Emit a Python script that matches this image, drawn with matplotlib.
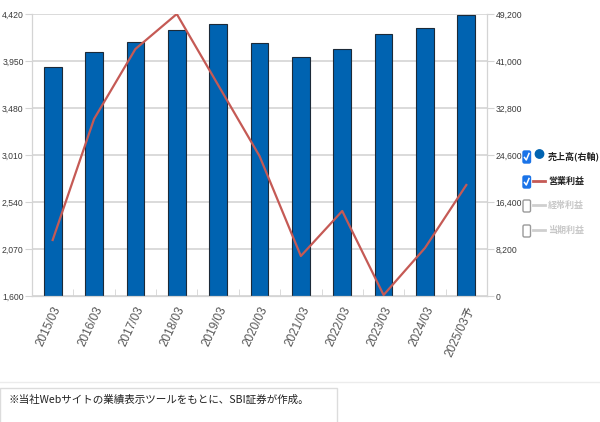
import matplotlib
matplotlib.use("Agg")
import matplotlib.pyplot as plt
from matplotlib.patches import FancyBboxPatch, Circle, Rectangle
from matplotlib.lines import Line2D
from matplotlib.transforms import Affine2D

plt.rcParams['font.family'] = ['Liberation Sans', 'Noto Sans CJK JP', 'DejaVu Sans']

# data
years = ['2015/03', '2016/03', '2017/03', '2018/03', '2019/03', '2020/03',
         '2021/03', '2022/03', '2023/03', '2024/03', '2025/03予']
sales = [40000, 42600, 44250, 46400, 47400, 44100, 41650, 43100, 45700, 46800, 49000]
op_profit = [2160, 3370, 4070, 4420, 3710, 3000, 2000, 2450, 1610, 2080, 2710]

left_ticks = [1600, 2070, 2540, 3010, 3480, 3950, 4420]
right_ticks = [0, 8200, 16400, 24600, 32800, 41000, 49200]

legend_items = ['売上高(右軸)', '営業利益', '経常利益', '当期利益']
footnote = '※当社Webサイトの業績表示ツールをもとに、SBI証券が作成。'

BLUE = '#0063b1'
RED = '#c55a55'
GRID = '#d4d4d4'
TXT = '#3a3a3a'

fig = plt.figure(figsize=(6, 4.22), dpi=100)
W, H = 600, 422
ax = fig.add_axes([32 / W, 1 - 296 / H, (487 - 32) / W, (296 - 14) / H])
ax2 = ax.twinx()

xs = list(range(len(years)))

# bars on the right axis
ax.bar(xs, sales, width=0.43, color=BLUE, edgecolor='#1c2a38', linewidth=0.8, zorder=2)
ax.set_ylim(0, 49200)
ax.set_xlim(-0.5, len(years) - 0.5)
ax.yaxis.tick_right()
ax.set_yticks(right_ticks)
ax.set_yticklabels([f'{v:,}' for v in right_ticks])
ax.yaxis.grid(True, color=GRID, linewidth=1.2)
ax.set_axisbelow(True)

ax.set_xticks(xs)
ax.set_xticklabels(years, rotation=65, ha='right', va='top', rotation_mode='anchor',
                   fontsize=8.5, color='#555555')
ax.set_xticks([x + 0.5 for x in xs[:-1]], minor=True)
ax.tick_params(axis='x', which='major', length=0, pad=6)
ax.tick_params(axis='x', which='minor', length=5, direction='in', color=GRID)
ax.tick_params(axis='y', length=5, color=GRID, labelsize=6.2, labelcolor=TXT, pad=1)

# line on the left axis
ax2.plot(xs, op_profit, color=RED, linewidth=1.6, zorder=3)
ax2.set_ylim(1600, 4420)
ax2.yaxis.tick_left()
ax2.set_yticks(left_ticks)
ax2.set_yticklabels([f'{v:,}' for v in left_ticks])
ax2.tick_params(axis='y', length=5, color=GRID, labelsize=6.2, labelcolor=TXT, pad=1)

for a in (ax, ax2):
    for s in ('left', 'right', 'bottom'):
        a.spines[s].set_color(GRID)
    a.spines['top'].set_visible(False)

# legend drawn by hand (pixel coords from top-left)
px = Affine2D().scale(1 / W, -1 / H).translate(0, 1) + fig.transFigure
ys = [156, 181, 205, 230]
for i, (label, y) in enumerate(zip(legend_items, ys)):
    checked = i < 2
    box = FancyBboxPatch((523, y - 5), 7.5, 12, boxstyle='round,pad=0,rounding_size=1.5',
                         transform=px, facecolor='#1a73e8' if checked else 'white',
                         edgecolor='#1a73e8' if checked else '#9a9a9a', linewidth=1)
    fig.patches.append(box)
    if checked:
        fig.lines.append(Line2D([524.5, 526.3, 529], [y + 1.5, y + 4, y - 2.5], transform=px,
                                color='white', linewidth=1.1))
    if i == 0:
        fig.patches.append(Circle((539.5, y - 2), 4.2, transform=px, color=BLUE))
    else:
        fig.lines.append(Line2D([533, 545], [y, y], transform=px,
                                color=RED if checked else '#cfcfcf', linewidth=2))
    fig.text(548 / W, 1 - y / H, label, fontsize=6.5, fontweight='bold',
             color='#222222' if checked else '#c8c8c8', va='center', ha='left',
             family=['Noto Sans CJK JP', 'DejaVu Sans'])

# footnote box
fig.lines.append(Line2D([0, 600], [382, 382], transform=px, color='#ececec', linewidth=1))
fig.patches.append(Rectangle((0, 388), 337, 40, transform=px, facecolor='white',
                             edgecolor='#dcdcdc', linewidth=1))
fig.text(9 / W, 1 - 400 / H, footnote, fontsize=7.6, color='#222222', va='center', ha='left',
         family=['Noto Sans CJK JP', 'DejaVu Sans'])

fig.savefig('out.png', dpi=100)
